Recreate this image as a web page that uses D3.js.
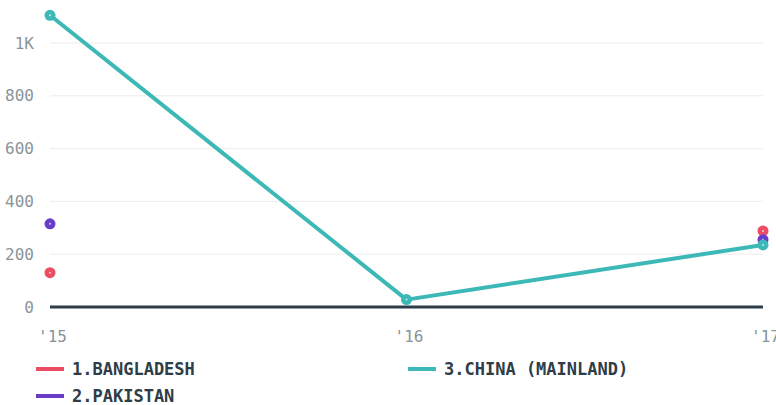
<!DOCTYPE html>
<html>
<head>
	<script src="https://cdn.jsdelivr.net/npm/d3@7"></script>
	<style>
		html, body { padding: 0; margin: 0; background: #fff; }
	</style>
</head>
<body>
	<script>
		var width = 776, height = 405;

		// data
		var years = [2015, 2016, 2017];
		var bangladesh = [130, null, 288];
		var pakistan = [315, null, 255];
		var china = [1105, 28, 235];
		var yTicks = [0, 200, 400, 600, 800, 1000];
		var seriesNames = ["1.BANGLADESH", "2.PAKISTAN", "3.CHINA (MAINLAND)"];
		var seriesColors = ["#ec4d62", "#6a3dc8", "#3cb9b7"];
		var series = [bangladesh, pakistan, china];

		var svg = d3.select('body').append('svg')
			.attr('width', width)
			.attr('height', height);

		var x = d3.scaleLinear().domain([2015, 2017]).range([50, 763]);
		var y = d3.scaleLinear().domain([0, 1000]).range([307, 43]);

		// grid
		svg.append('g').selectAll('line')
			.data(yTicks.filter(function(d) { return d > 0; }))
			.enter().append('line')
			.attr('x1', 50).attr('x2', 763)
			.attr('y1', function(d) { return y(d); })
			.attr('y2', function(d) { return y(d); })
			.attr('stroke', '#ececec')
			.attr('stroke-width', 1);

		// y labels
		var yAxis = d3.axisLeft(y).tickValues(yTicks).tickSize(0).tickPadding(0)
			.tickFormat(function(d) { return d >= 1000 ? (d / 1000) + 'K' : d; });
		var gy = svg.append('g').attr('transform', 'translate(34,0)').call(yAxis);
		gy.select('.domain').remove();
		gy.selectAll('text')
			.attr('fill', '#89949b')
			.style('font-family', '"DejaVu Sans Mono", monospace')
			.style('font-size', '16px');

		// x labels ('17 runs off the right edge, as in the original)
		var xAxis = d3.axisBottom(x).tickValues(years).tickSize(0).tickPadding(0)
			.tickFormat(function(d) { return "'" + String(d).slice(2); });
		var gx = svg.append('g').attr('transform', 'translate(2,331)').call(xAxis);
		gx.select('.domain').remove();
		gx.selectAll('text')
			.attr('fill', '#89949b')
			.style('font-family', '"DejaVu Sans Mono", monospace')
			.style('font-size', '16px');

		// baseline
		svg.append('line')
			.attr('x1', 50).attr('x2', 763)
			.attr('y1', y(0)).attr('y2', y(0))
			.attr('stroke', '#2e3d47')
			.attr('stroke-width', 3);

		// lines and points
		var line = d3.line()
			.defined(function(d) { return d != null; })
			.x(function(d, i) { return x(years[i]); })
			.y(function(d) { return y(d); });

		series.forEach(function(s, k) {
			svg.append('path')
				.datum(s)
				.attr('d', line)
				.attr('fill', 'none')
				.attr('stroke', seriesColors[k])
				.attr('stroke-width', 4)
				.attr('stroke-linejoin', 'round');
		});

		series.forEach(function(s, k) {
			var pts = s.map(function(v, i) { return { v: v, yr: years[i] }; })
				.filter(function(d) { return d.v != null; });
			var g = svg.append('g');
			g.selectAll('circle.outer').data(pts).enter().append('circle')
				.attr('cx', function(d) { return x(d.yr); })
				.attr('cy', function(d) { return y(d.v); })
				.attr('r', 5.5)
				.attr('fill', seriesColors[k]);
			g.selectAll('circle.inner').data(pts).enter().append('circle')
				.attr('cx', function(d) { return x(d.yr); })
				.attr('cy', function(d) { return y(d.v); })
				.attr('r', 1)
				.attr('fill', '#fff')
				.attr('opacity', 0.7);
		});

		// legend
		var legendPos = [[36, 369], [36, 396], [408, 369]];
		seriesNames.forEach(function(name, k) {
			var p = legendPos[k];
			svg.append('line')
				.attr('x1', p[0]).attr('x2', p[0] + 28)
				.attr('y1', p[1]).attr('y2', p[1])
				.attr('stroke', seriesColors[k])
				.attr('stroke-width', 4);
			svg.append('text')
				.attr('x', p[0] + 36).attr('y', p[1] + 6)
				.text(name)
				.attr('fill', '#2e3d47')
				.style('font-family', '"DejaVu Sans Mono", monospace')
				.style('font-weight', 'bold')
				.style('font-size', '17px');
		});
	</script>
</body>
</html>
